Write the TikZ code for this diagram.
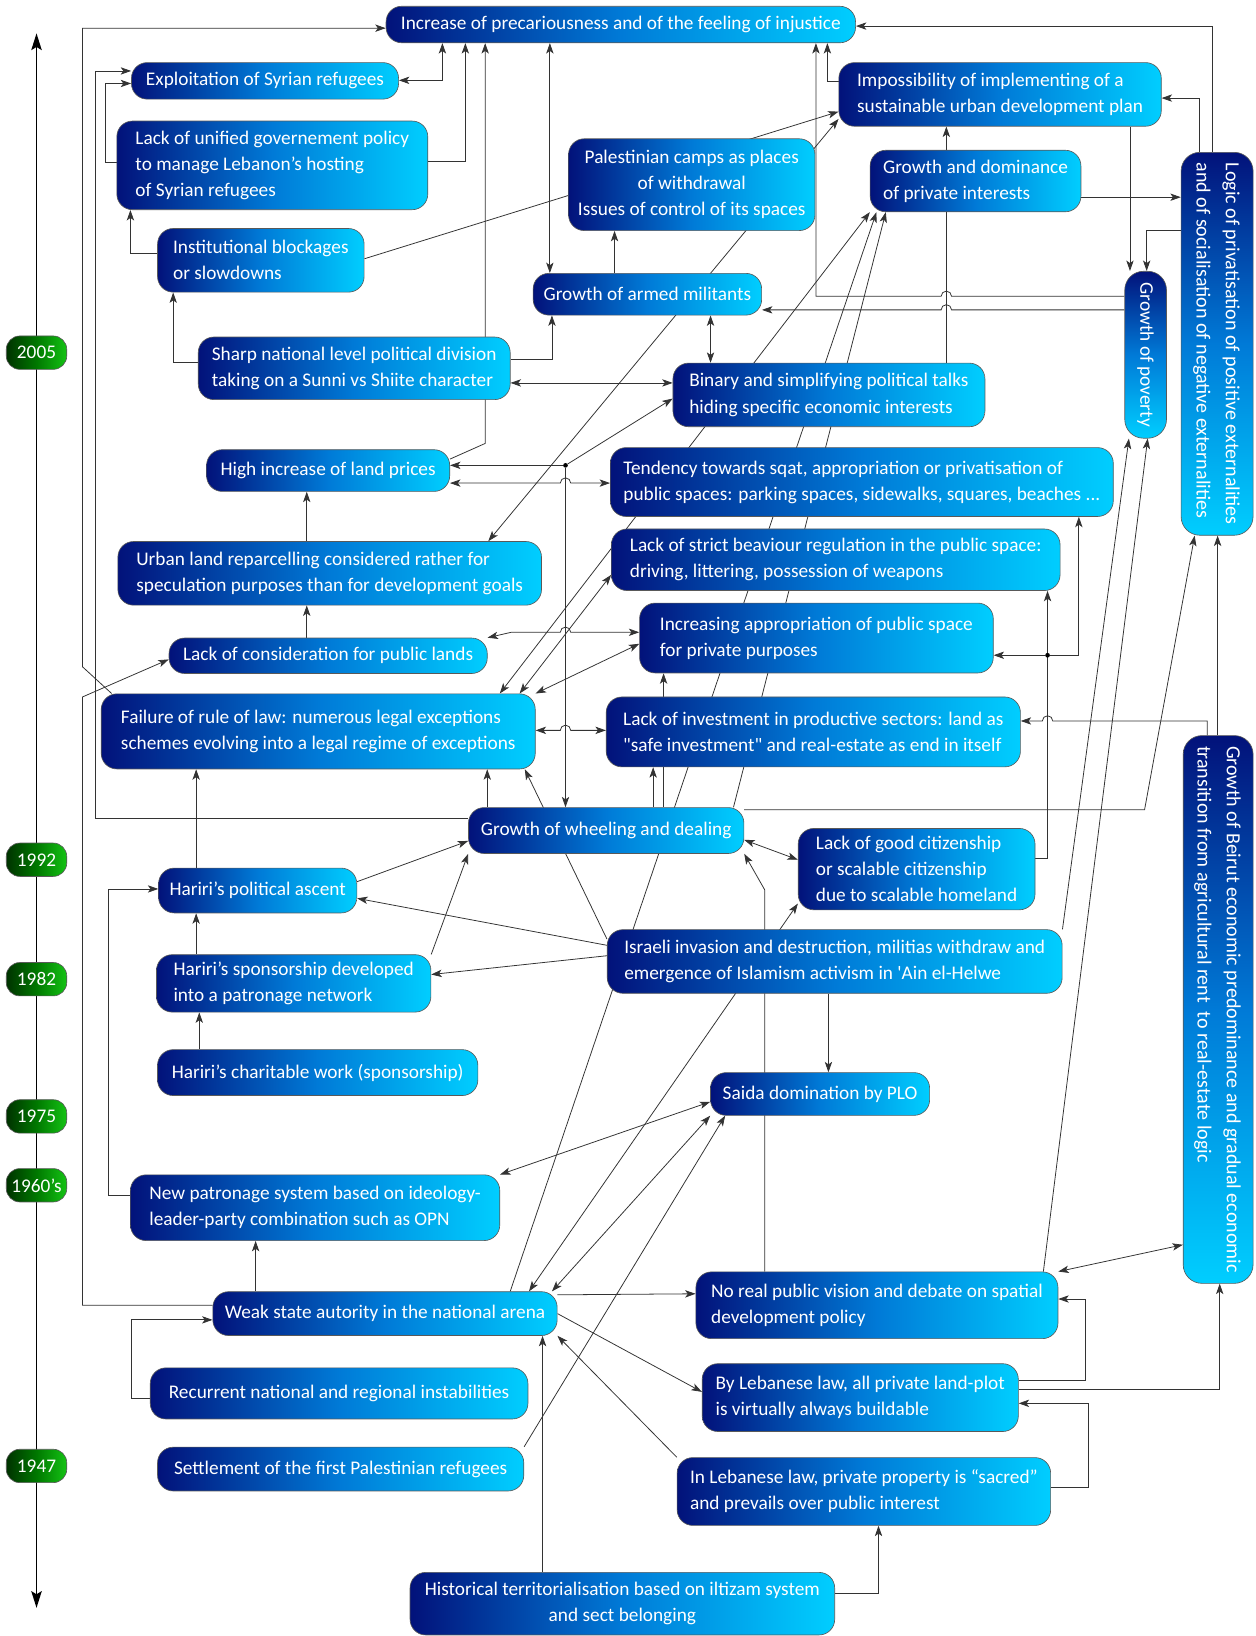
\documentclass[tikz,border=0pt]{standalone}
\usepackage{fontspec}
\setmainfont{Carlito}
\usepackage{graphicx}
\usepackage{tikz}
\usetikzlibrary{
    arrows.meta,
    backgrounds,
    positioning,
    calc
}
\definecolor{boxdark}{RGB}{2,18,122}
\definecolor{boxmid}{RGB}{0,122,215}
\definecolor{boxlight}{RGB}{0,206,255}
\definecolor{yeardark}{RGB}{0,50,0}
\definecolor{yearmid}{RGB}{0,120,0}
\definecolor{yearlight}{RGB}{20,195,20}
\tikzset{
  >={Stealth[length=10pt,width=7pt,inset=2.5pt]},
  basebox/.style = {
      draw=black!65,
      line width=0.6pt,
      rounded corners=15pt,
      text=white,
      align=left,
      inner xsep=9pt,
      inner ysep=2pt,
      font=\fontsize{18.5}{25}\selectfont
  },
  box/.style = {
      basebox,
      left color=boxdark,
      right color=boxlight,
      middle color=boxmid
  },
  vbox/.style = {
      basebox,
      rounded corners=18pt,
      top color=boxdark,
      bottom color=boxlight,
      middle color=boxmid,
      align=center,
      inner sep=0pt
  },
  year/.style = {
      basebox,
      rounded corners=13pt,
      left color=yeardark,
      right color=yearlight,
      middle color=yearmid,
      align=center,
      minimum width=58pt,
      minimum height=32pt,
      inner xsep=2pt
  },
  link/.style = {
      ->,
      draw=black!80,
      line width=0.75pt
  },
  twoway/.style = {
      link,
      <->
  },
  junction/.style = {
      circle,
      fill=black,
      inner sep=0pt,
      minimum size=4.5pt
  },
  timeline/.style = {
      <->,
      >={Stealth[length=16pt,width=10pt,inset=3pt]},
      line width=1.4pt
  }
}

\begin{document}
\begin{tikzpicture}[x=1pt,y=-1pt]
    \useasboundingbox (0,0) rectangle (1203,1568);
    % Timeline
    \coordinate (now) at (35,32);
    \coordinate (past) at (35,1541);
    \node[year] (y2005) at (35,338) {2005};
    \node[year] (y1992) at (35,824) {1992};
    \node[year] (y1982) at (35,938.5) {1982};
    \node[year] (y1975) at (35,1070) {1975};
    \node[year] (y1960) at (35,1136) {1960’s};
    \node[year] (y1947) at (35,1405) {1947};
    % Top
    \node[box, minimum width=450pt, minimum height=35pt] (incr) at (595,23.5) {Increase of precariousness and of the feeling of injustice};
    \node[box, minimum width=256pt, minimum height=35pt] (exploit) at (254,77.5) {Exploitation of Syrian refugees};
    \node[box, minimum width=298pt, minimum height=85pt] (lackgov) at (261,158.5) {Lack of unified governement policy\\to manage Lebanon’s hosting\\of Syrian refugees};
    \node[box, minimum width=198pt, minimum height=61pt] (instit) at (250,249.5) {Institutional blockages\\or slowdowns};
    \node[box, align=center, minimum width=224pt, minimum height=88pt] (palest) at (663,177) {Palestinian camps as places\\of withdrawal\\Issues of control of its spaces};
    \node[box, minimum width=309pt, minimum height=61pt] (impos) at (958.5,90.5) {Impossibility of implementing of a\\sustainable urban development plan};
    \node[box, minimum width=202pt, minimum height=59pt] (growthpriv) at (935,173.5) {Growth and dominance\\of private interests};
    \node[box, minimum width=219pt, minimum height=40pt] (armed) at (620.5,282) {Growth of armed militants};
    \node[box, minimum width=299pt, minimum height=60pt] (sharp) at (339.5,353) {Sharp national level political division\\taking on a Sunni vs Shiite character};
    \node[box, minimum width=299pt, minimum height=61pt] (binary) at (794.5,378.5) {Binary and simplifying political talks\\hiding specific economic interests};
    \node[vbox, minimum width=40pt, minimum height=160pt] (poverty) at (1098,340) {\rotatebox{-90}{Growth of poverty}};
    \node[vbox, minimum width=69pt, minimum height=367pt, font=\fontsize{19.2}{28}\selectfont] (logic) at (1166.5,329.5) {\rotatebox{-90}{\begin{tabular}{@{}l@{}}Logic of privatisation of positive externalities\\and of socialisation of negative externalities\end{tabular}}};
    % Middle
    \node[box, minimum width=233pt, minimum height=40pt] (landprice) at (314.5,451) {High increase of land prices};
    \node[box, minimum width=482pt, minimum height=66pt] (tendency) at (826,462) {Tendency towards sqat, appropriation or privatisation of\\public spaces: parking spaces, sidewalks, squares, beaches ...};
    \node[box, minimum width=406pt, minimum height=61pt] (urban) at (316,549.5) {Urban land reparcelling considered rather for\\speculation purposes than for development goals};
    \node[box, minimum width=430pt, minimum height=59pt] (strict) at (801,536.5) {Lack of strict beaviour regulation in the public space:\\driving, littering, possession of weapons};
    \node[box, minimum width=305pt, minimum height=34pt] (lackcons) at (314.5,628.5) {Lack of consideration for public lands};
    \node[box, minimum width=339pt, minimum height=67pt] (increasing) at (782.5,611.5) {Increasing appropriation of public space\\for private purposes};
    \node[box, minimum width=416pt, minimum height=72pt] (failure) at (305,701) {Failure of rule of law: numerous legal exceptions\\schemes evolving into a legal regime of exceptions};
    \node[box, minimum width=397pt, minimum height=67pt] (invest) at (779.5,701.5) {Lack of investment in productive sectors: land as\\\textquotedbl safe investment\textquotedbl{} and real-estate as end in itself};
    \node[box, minimum width=264pt, minimum height=44pt] (wheel) at (581,796) {Growth of wheeling and dealing};
    \node[box, minimum width=227pt, minimum height=78pt] (goodcit) at (878.5,833) {Lack of good citizenship\\or scalable citizenship\\due to scalable homeland};
    \node[vbox, minimum width=67pt, minimum height=525pt, font=\fontsize{19.2}{28}\selectfont] (beirut) at (1167.5,967.5) {\rotatebox{-90}{\begin{tabular}{@{}l@{}}Growth of Beirut economic predominance and gradual economic\\transition from agricultural rent \ to real-estate logic\end{tabular}}};
    \node[box, minimum width=190pt, minimum height=43pt] (ascent) at (247,853.5) {Hariri’s political ascent};
    \node[box, minimum width=436pt, minimum height=61pt] (israeli) at (800,921.5) {Israeli invasion and destruction, militias withdraw and\\emergence of Islamism activism in \textquotesingle Ain el-Helwe};
    \node[box, minimum width=263pt, minimum height=55pt] (sponsor) at (281.5,942.5) {Hariri’s sponsorship developed\\into a patronage network};
    \node[box, minimum width=307pt, minimum height=44pt] (charit) at (304.5,1028) {Hariri’s charitable work (sponsorship)};
    \node[box, minimum width=210pt, minimum height=41pt] (saida) at (786,1048.5) {Saida domination by PLO};
    % Bottom
    \node[box, minimum width=354pt, minimum height=63pt] (newpat) at (302,1157.5) {New patronage system based on ideology-\\leader-party combination such as OPN};
    \node[box, minimum width=347pt, minimum height=64pt] (novision) at (840.5,1251) {No real public vision and debate on spatial\\development policy};
    \node[box, minimum width=330pt, minimum height=42pt] (weak) at (369,1259) {Weak state autority in the national arena};
    \node[box, minimum width=303pt, minimum height=65pt] (bylaw) at (824.5,1339.5) {By Lebanese law, all private land-plot\\is virtually always buildable};
    \node[box, minimum width=362pt, minimum height=49pt] (recur) at (325,1335.5) {Recurrent national and regional instabilities};
    \node[box, minimum width=351pt, minimum height=42pt] (settle) at (326.5,1408) {Settlement of the first Palestinian refugees};
    \node[box, minimum width=358pt, minimum height=65pt] (sacred) at (828,1429.5) {In Lebanese law, private property is “sacred”\\and prevails over public interest};
    \node[box, align=center, minimum width=407pt, minimum height=60pt] (hist) at (596.5,1537) {Historical territorialisation based on iltizam system\\and sect belonging};
    % Junctions
    \node[junction] (fork) at (542,446) {};
    \node[junction] (split) at (1004,628) {};

    \begin{pgfonlayer}{background}
    \draw[timeline] (now) -- (past);
    % Edges
    \draw[link] (failure.north -| 107,0) -- (79,639) |- (incr.west |- 0,27);
    \draw[link] (wheel.west |- 0,784) -| (91,68) -- (exploit.west |- 0,68);
    \draw[link] (lackgov.west |- 0,156) -| (101,80) -- (exploit.west |- 0,80);
    \draw[link] (weak.west |- 0,1251) -| (79,668) -- (lackcons.west |- 0,632);
    \draw[twoway] (exploit.east |- 0,77) -| (incr.south -| 424,0);
    \draw[link] (lackgov.east |- 0,155) -| (incr.south -| 446,0);
    \draw[link] (landprice.east |- 0,440) -- (465,425) -- (incr.south -| 465,0);
    \draw[twoway] (incr.south -| 527,0) -- (armed.north -| 527,0);
    \draw[link] (armed.north -| 589,0) -- (palest.south -| 589,0);
    \draw[link] (instit.east |- 0,248) -- (impos.west |- 0,107);
    \draw[twoway] (urban.north -| 468,0) -- (impos.west |- 0,114);
    \draw[link] (sharp.west |- 0,347) -| (instit.south -| 166,0);
    \draw[link] (instit.west |- 0,243) -| (lackgov.south -| 125,0);
    \draw[link] (sharp.east |- 0,344) -| (armed.south -| 529,0);
    \draw[twoway] (sharp.east |- 0,367) -- (binary.west |- 0,367);
    \draw[twoway] (binary.north -| 681,0) -- (armed.south -| 681,0);
    \draw[link] (fork) -- (landprice.east |- fork);
    \draw[link] (fork) -- (binary.west |- 0,382);
    \draw[link] (fork) -- (wheel.north -| fork);
    \draw[twoway] (landprice.east |- 0,463) -- (537,463) arc[start angle=180,end angle=0,radius=5pt] -- (tendency.west |- 0,463);
    \draw[link] (urban.north -| 294,0) -- (landprice.south -| 294,0);
    \draw[link] (lackcons.north -| 294,0) -- (urban.south -| 294,0);
    \draw[twoway] (lackcons.north east) -- (490,606) -- (537,606) arc[start angle=180,end angle=0,radius=5pt] -- (increasing.west |- 0,606);
    \draw[twoway] (failure.north -| 479,0) -- (growthpriv.south west);
    \draw[twoway] (failure.north -| 498,0) -- (strict.west |- 0,551);
    \draw[twoway] (failure.north east) -- (increasing.west |- 0,617);
    \draw[twoway] (failure.east |- 0,700) -- (537,700) arc[start angle=180,end angle=0,radius=5pt] -- (invest.west |- 0,700);
    \draw[link] (ascent.north -| 188,0) -- (failure.south -| 188,0);
    \draw[link] (wheel.north -| 467,0) -- (failure.south -| 467,0);
    \draw[link] (israeli.west |- 0,900) -- (failure.south -| 503,0);
    \draw[link] (wheel.north -| 626,0) -- (invest.south -| 626,0);
    \draw[link] (wheel.north -| 636,0) -- (increasing.south -| 636,0);
    \draw[link] (weak.north -| 489,0) -- (growthpriv.south -| 840,0);
    \draw[link] (wheel.north -| 703,0) -- (growthpriv.south -| 849,0);
    \draw[link] (binary.north -| 907,0) -- (impos.south -| 907,0);
    \draw[link] (growthpriv.east |- 0,189) -- (logic.west |- 0,189);
    \draw[link] (logic.north -| 1150,0) |- (impos.east |- 0,94);
    \draw[link] (logic.north -| 1162,0) |- (incr.east |- 0,25);
    \draw[link] (impos.west |- 0,78) -| (incr.south -| 793,0);
    \draw[link] (poverty.west |- 0,284) -- (912,284) arc[start angle=0,end angle=180,radius=5pt] -- (782,284) -- (incr.south -| 782,0);
    \draw[link] (poverty.west |- 0,297) -- (912,297) arc[start angle=0,end angle=180,radius=5pt] -- (armed.east |- 0,297);
    \draw[link] (impos.south -| 1083,0) -- (poverty.north -| 1083,0);
    \draw[link] (logic.west |- 0,221) -| (poverty.north -| 1099,0);
    \draw[link] (israeli.north east) -- (poverty.south -| 1082,0);
    \draw[link] (novision.north -| 1000,0) -- (poverty.south -| 1100,0);
    \draw[link] (wheel.east |- 0,776) -- (1097,776) -- (logic.south -| 1145,0);
    \draw[link] (beirut.north -| 1167,0) -- (logic.south -| 1167,0);
    \draw[link] (beirut.north -| 1157,0) |- (1009,691) arc[start angle=0,end angle=180,radius=5pt] -- (invest.east |- 0,691);
    \draw[link] (goodcit.east |- 0,823) -| (strict.south -| 1004,0);
    \draw[link] (split) -- (increasing.east |- split);
    \draw[link] (split) -| (tendency.south -| 1034,0);
    \draw[twoway] (wheel.east |- 0,805) -- (goodcit.west |- 0,824);
    \draw[link] (novision.north -| 733,0) -- (733,853) -- (wheel.south east);
    \draw[link] (ascent.east |- 0,845) -- (wheel.west |- 0,806);
    \draw[link] (sponsor.north east) -- (wheel.south west);
    \draw[link] (israeli.west |- 0,906) -- (ascent.east |- 0,861);
    \draw[link] (israeli.west |- 0,916) -- (sponsor.east |- 0,934);
    \draw[link] (israeli.south -| 794,0) -- (saida.north -| 794,0);
    \draw[twoway] (weak.north -| 507,0) -- (goodcit.west |- 0,866);
    \draw[twoway] (weak.north -| 529,0) -- (saida.south west);
    \draw[link] (settle.north east) -- (saida.south -| 695,0);
    \draw[twoway] (newpat.north east) -- (saida.west |- 0,1056);
    \draw[link] (newpat.west |- 0,1146) -| (104,852) -- (ascent.west |- 0,852);
    \draw[link] (sponsor.north -| 188,0) -- (ascent.south -| 188,0);
    \draw[link] (charit.north -| 191,0) -- (sponsor.south -| 191,0);
    \draw[link] (weak.north -| 245,0) -- (newpat.south -| 245,0);
    \draw[link] (recur.west |- 0,1340) -| (126,1265) -- (weak.west |- 0,1265);
    \draw[link] (weak.east |- 0,1241) -- (novision.west |- 0,1240);
    \draw[link] (weak.east |- 0,1259) -- (bylaw.west |- 0,1334);
    \draw[link] (sacred.north west) -- (weak.south east);
    \draw[link] (hist.north -| 520,0) -- (weak.south -| 520,0);
    \draw[link] (bylaw.east |- 0,1323) -| (1040,1245) -- (novision.east |- 0,1245);
    \draw[link] (bylaw.east |- 0,1332) -| (beirut.south -| 1169,0);
    \draw[link] (sacred.east |- 0,1426) -| (1043,1345) -- (bylaw.east |- 0,1345);
    \draw[link] (hist.east |- 0,1527) -| (sacred.south -| 842,0);
    \draw[twoway] (novision.north east) -- (beirut.west |- 0,1193);
    \end{pgfonlayer}
\end{tikzpicture}
\end{document}
